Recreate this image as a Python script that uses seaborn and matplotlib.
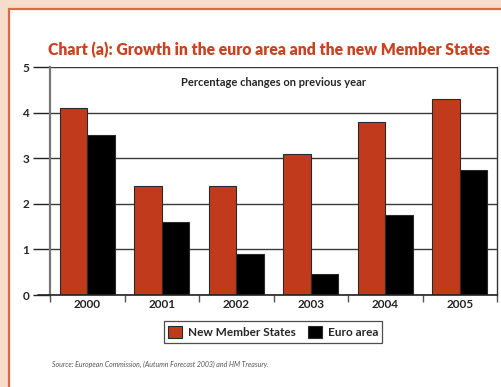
import matplotlib
matplotlib.use("Agg")
import matplotlib.pyplot as plt
from matplotlib.patches import Rectangle, Patch
import seaborn as sns
import pandas as pd

years = ["2000", "2001", "2002", "2003", "2004", "2005"]
new_member_states = [4.1, 2.4, 2.4, 3.1, 3.8, 4.3]
euro_area = [3.5, 1.6, 0.9, 0.45, 1.75, 2.75]
series_names = ["New Member States", "Euro area"]
y_ticks = [0, 1, 2, 3, 4, 5]

title = "Chart (a): Growth in the euro area and the new Member States"
subtitle = "Percentage changes on previous year"
source = "Source: European Commission, (Autumn Forecast 2003) and HM Treasury."

RED = "#c13a1b"
TITLE_RED = "#c8431f"
PEACH = "#f6dccb"
FRAME = "#dc6a45"

df = pd.DataFrame({
    "year": years * 2,
    "value": new_member_states + euro_area,
    "series": [series_names[0]] * len(years) + [series_names[1]] * len(years),
})

sns.set_theme(style="white")
plt.rcParams["font.family"] = ["Lato", "DejaVu Sans"]

W, H = 501, 387
fig = plt.figure(figsize=(W / 100, H / 100), dpi=100)
fig.patch.set_facecolor(PEACH)
# white panel with an orange frame on its left and top edges
fig.patches.append(Rectangle((9 / W, -0.1), 1.2, 1.1 - 9 / H,
                             transform=fig.transFigure, facecolor="white",
                             edgecolor=FRAME, linewidth=1.6, zorder=-10))

ax = fig.add_axes([50 / W, 1 - 295 / H, (497 - 50) / W, (295 - 67) / H])
ax.set_facecolor("white")

sns.barplot(data=df, x="year", y="value", hue="series", order=years,
            hue_order=series_names, palette={series_names[0]: RED, series_names[1]: "black"},
            width=0.74, gap=0, saturation=1, edgecolor="#2a2a2a", linewidth=0.8,
            legend=False, ax=ax, zorder=3)

ax.set_xlim(-0.5, len(years) - 0.5)
ax.set_ylim(0, 5)
ax.set_yticks(y_ticks)
ax.set_yticklabels([str(t) for t in y_ticks], fontweight="bold", fontsize=8.5)
ax.set_xticklabels(years, fontweight="bold", fontsize=8.5)
ax.set_xlabel("")
ax.set_ylabel("")

for t in y_ticks:
    ax.axhline(t, color="#3a3a3a", linewidth=1.0, zorder=1)
ax.axhline(0, xmin=-12 / 447, xmax=1, color="#222222", linewidth=1.2, zorder=4, clip_on=False)

ax.tick_params(axis="y", which="major", direction="out", length=12, width=1.0,
               color="#222222", pad=3, left=True)
ax.tick_params(axis="x", which="major", length=0, pad=3)
ax.set_xticks([i - 0.5 for i in range(len(years) + 1)], minor=True)
ax.tick_params(axis="x", which="minor", direction="out", length=5, width=1.0,
               color="#555555", bottom=True)

for side in ["top", "bottom"]:
    ax.spines[side].set_visible(False)
ax.spines["left"].set_color("#777777")
ax.spines["left"].set_linewidth(1.6)
ax.spines["right"].set_color("#333333")
ax.spines["right"].set_linewidth(1.0)

fig.text(48 / W, 1 - 50 / H, title, color=TITLE_RED, fontsize=11.3,
         fontweight="heavy", ha="left", va="center")
ax.text(0.5, 0.93, subtitle, transform=ax.transAxes, fontsize=8,
        fontweight="bold", ha="center", va="center")

handles = [Patch(facecolor=RED, edgecolor="#2a2a2a", linewidth=0.8),
           Patch(facecolor="black", edgecolor="#2a2a2a", linewidth=0.8)]
leg = fig.legend(handles, series_names, loc="center", bbox_to_anchor=(273 / W, 1 - 332 / H),
                 ncol=2, frameon=True, fancybox=False, handlelength=1.2, handleheight=1.3,
                 handletextpad=0.5, columnspacing=1.0, borderpad=0.35,
                 prop={"weight": "bold", "size": 8.5})
leg.get_frame().set_edgecolor("#222222")
leg.get_frame().set_linewidth(0.9)

fig.text(52 / W, 1 - 364 / H, source, color="#555555", fontsize=5,
         fontstyle="italic", ha="left", va="center")

fig.savefig("out.png", dpi=100, facecolor=fig.get_facecolor())
